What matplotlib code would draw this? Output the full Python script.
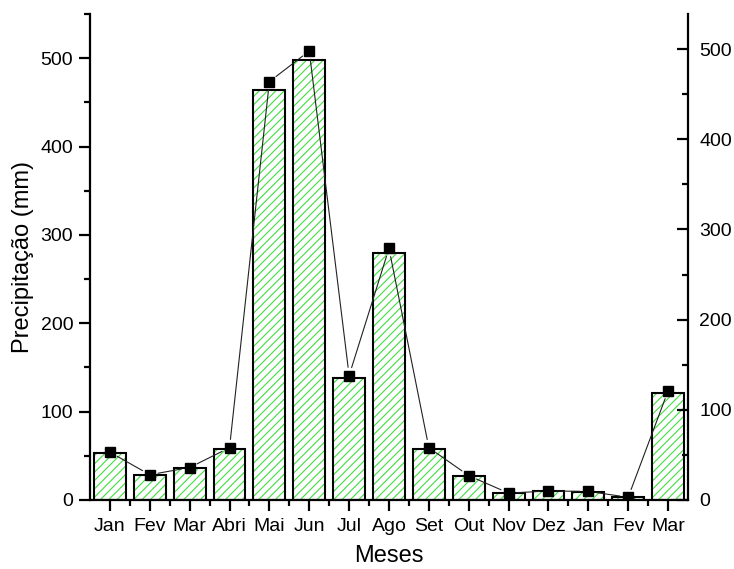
import matplotlib
matplotlib.use("Agg")
import matplotlib.pyplot as plt
import numpy as np
from matplotlib.ticker import MultipleLocator, FixedLocator

plt.rcParams['font.family'] = ['Liberation Sans', 'DejaVu Sans']
plt.rcParams['hatch.linewidth'] = 0.8

meses = ["Jan", "Fev", "Mar", "Abri", "Mai", "Jun", "Jul", "Ago", "Set",
         "Out", "Nov", "Dez", "Jan", "Fev", "Mar"]
precipitacao = [53, 28, 36, 58, 464, 498, 138, 279, 58, 27, 7.6, 10, 9.5, 3, 121]

x = np.arange(len(meses))

fig = plt.figure(figsize=(7.34, 5.69), dpi=100)
ax = fig.add_axes([0.1226, 0.1213, 0.8147, 0.8541])

# hatched fill, then black outline on top
ax.bar(x, precipitacao, width=0.8, facecolor="white", edgecolor="#3ee03e",
       hatch="////", linewidth=0, zorder=2)
ax.bar(x, precipitacao, width=0.8, fill=False, edgecolor="black",
       linewidth=1.5, zorder=3)

ax.set_xlim(-0.5, len(meses) - 0.5)
ax.set_ylim(0, 550)
ax.set_xticks(x)
ax.set_xticklabels(meses)
ax.xaxis.set_minor_locator(FixedLocator(x[:-1] + 0.5))
ax.yaxis.set_major_locator(MultipleLocator(100))
ax.yaxis.set_minor_locator(MultipleLocator(50))

for side in ("top", "right"):
    ax.spines[side].set_visible(False)
for side in ("left", "bottom"):
    ax.spines[side].set_linewidth(1.6)

ax.tick_params(axis="both", which="major", direction="out", length=8,
               width=1.6, labelsize=14, pad=4)
ax.tick_params(axis="both", which="minor", direction="out", length=4.5,
               width=1.6)
ax.tick_params(axis="x", which="major", pad=5)

ax.set_ylabel("Precipitação (mm)", fontsize=17, labelpad=5)
ax.set_xlabel("Meses", fontsize=17, labelpad=7)

# line with markers on the secondary scale
ax2 = ax.twinx()
ax2.set_ylim(0, 539)
ax2.yaxis.set_major_locator(MultipleLocator(100))
ax2.yaxis.set_minor_locator(MultipleLocator(50))
for side in ("top", "left", "bottom"):
    ax2.spines[side].set_visible(False)
ax2.spines["right"].set_linewidth(1.6)
ax2.tick_params(axis="y", which="major", direction="in", length=8,
                width=1.6, labelsize=14, pad=8)
ax2.tick_params(axis="y", which="minor", direction="in", length=4.5,
                width=1.6)

for i in range(len(x) - 1):
    ax2.annotate("", xy=(x[i + 1], precipitacao[i + 1]),
                 xytext=(x[i], precipitacao[i]),
                 arrowprops=dict(arrowstyle="-", color="#222222", lw=0.8,
                                 shrinkA=6, shrinkB=6),
                 zorder=4)
ax2.plot(x, precipitacao, linestyle="none", marker="s", markersize=7.5,
         color="black", zorder=5)

fig.savefig("out.png", dpi=100)
